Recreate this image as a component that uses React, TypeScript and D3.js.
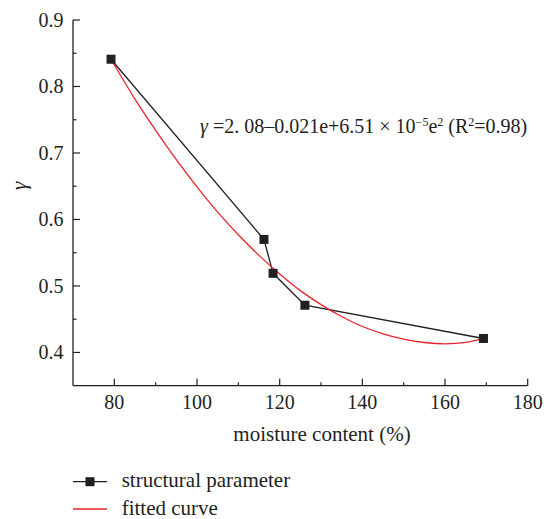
import React from "react";
import * as d3 from "d3";

const moisture = [79.2, 116.2, 118.4, 126.1, 169.3];
const gammaValues = [0.841, 0.57, 0.519, 0.471, 0.421];

const fitX = [79.2, 85, 90, 95, 100, 105, 110, 115, 120, 125, 130, 135, 140, 145, 150, 155, 160, 165, 169.3];
const fitY = [0.841, 0.781, 0.734, 0.69, 0.649, 0.611, 0.577, 0.546, 0.518, 0.493, 0.472, 0.454, 0.439, 0.428, 0.42, 0.415, 0.413, 0.415, 0.421];

const xTicks = [80, 100, 120, 140, 160, 180];
const xMinor = [90, 110, 130, 150, 170];
const yTicks = [0.4, 0.5, 0.6, 0.7, 0.8, 0.9];
const yMinor = [0.45, 0.55, 0.65, 0.75, 0.85];

const W = 544, H = 519;
const left = 73, right = 527.7, top = 20, bottom = 385.7;
const FONT = "'Liberation Serif', Tinos, 'Times New Roman', Times, 'DejaVu Serif', serif";
const INK = "#231f20";
const RED = "#e8242a";

const x = d3.scaleLinear().domain([70, 180]).range([left, right]);
const y = d3.scaleLinear().domain([0.35, 0.9]).range([bottom, top]);

const T = (p: any) => <text {...p} style={{ fontFamily: FONT, ...(p.style || {}) }} />;

export default function App() {
  const pts = moisture.map((m, i) => [m, gammaValues[i]] as [number, number]);
  const fitPts = fitX.map((m, i) => [m, fitY[i]] as [number, number]);
  const line = d3.line<[number, number]>().x((d) => x(d[0])).y((d) => y(d[1]));
  const curve = d3.line<[number, number]>().x((d) => x(d[0])).y((d) => y(d[1])).curve(d3.curveCatmullRom);
  const fx = d3.format("d");
  const fy = d3.format(".1f");

  return (
    <div style={{ position: "absolute", left: 0, top: 0, width: W, height: H, fontFamily: FONT }}>
      <svg width={W} height={H} style={{ display: "block", background: "#fff", fontFamily: FONT }} fill={INK}>
        <line x1={left} x2={left} y1={top} y2={bottom} stroke={INK} strokeWidth={1.3} />
        <line x1={left} x2={right} y1={bottom} y2={bottom} stroke={INK} strokeWidth={1.3} />
        {xTicks.map((t) => (
          <g key={"xt" + t}>
            <line x1={x(t)} x2={x(t)} y1={bottom} y2={bottom - 7} stroke={INK} strokeWidth={1.2} />
            <T x={x(t)} y={409} textAnchor="middle" fontSize={20}>{fx(t)}</T>
          </g>
        ))}
        {xMinor.map((t) => (
          <line key={"xm" + t} x1={x(t)} x2={x(t)} y1={bottom} y2={bottom - 3.5} stroke={INK} strokeWidth={1.2} />
        ))}
        {yTicks.map((t) => (
          <g key={"yt" + t}>
            <line x1={left} x2={left + 7} y1={y(t)} y2={y(t)} stroke={INK} strokeWidth={1.2} />
            <T x={63.5} y={y(t) + 7} textAnchor="end" fontSize={20}>{fy(t)}</T>
          </g>
        ))}
        {yMinor.map((t) => (
          <line key={"ym" + t} x1={left} x2={left + 3.5} y1={y(t)} y2={y(t)} stroke={INK} strokeWidth={1.2} />
        ))}

        <path d={line(pts) || ""} fill="none" stroke={INK} strokeWidth={1.3} />
        <path d={curve(fitPts) || ""} fill="none" stroke={RED} strokeWidth={1.3} />
        {pts.map((d, i) => (
          <rect key={"p" + i} x={x(d[0]) - 4.5} y={y(d[1]) - 4.5} width={9} height={9} fill={INK} />
        ))}

        <T x={322} y={441} textAnchor="middle" fontSize={21}>moisture content (%)</T>
        <T transform="translate(26,186) rotate(-90)" textAnchor="middle" fontSize={22} fontStyle="italic">γ</T>

        <T x={200} y={133} fontSize={20}>
          <tspan fontStyle="italic">γ</tspan>
          <tspan> =2. 08–0.021e+6.51 × 10</tspan>
          <tspan dy={-7} fontSize={12}>−5</tspan>
          <tspan dy={7}>e</tspan>
          <tspan dy={-7} fontSize={12}>2</tspan>
          <tspan dy={7}> (R</tspan>
          <tspan dy={-7} fontSize={12}>2</tspan>
          <tspan dy={7}>=0.98)</tspan>
        </T>

        <line x1={73} x2={107} y1={481.7} y2={481.7} stroke={INK} strokeWidth={1.3} />
        <rect x={85.5} y={477.2} width={9} height={9} fill={INK} />
        <line x1={73} x2={107} y1={509} y2={509} stroke={RED} strokeWidth={1.3} />
        <T x={121.7} y={487} fontSize={21}>structural parameter</T>
        <T x={121.7} y={514.5} fontSize={21}>fitted curve</T>
      </svg>
    </div>
  );
}
